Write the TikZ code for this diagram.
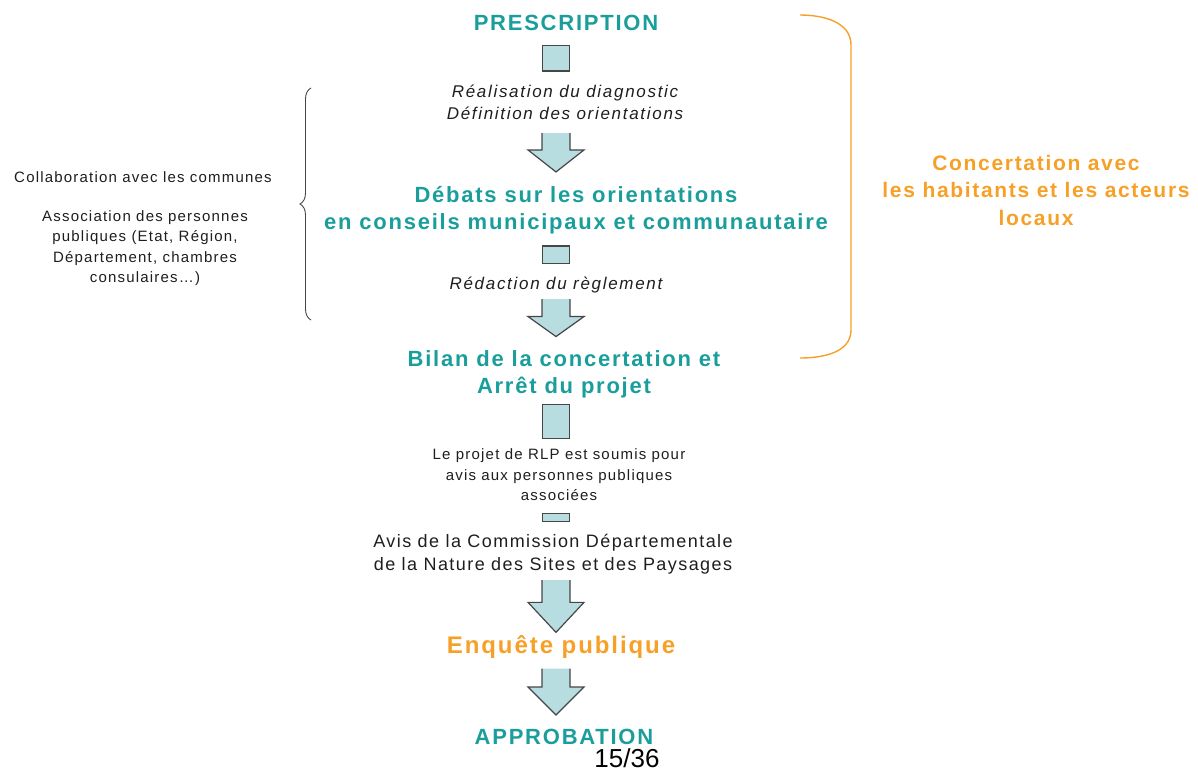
\documentclass[tikz,border=0pt]{standalone}
\usepackage{fontspec}
\setmainfont{Liberation Sans}
\newfontfamily\headfont[LetterSpace=8]{Liberation Sans}
\newfontfamily\bodyfont[LetterSpace=8]{Liberation Sans}
\newfontfamily\notefont[LetterSpace=10]{Liberation Sans}
\usetikzlibrary{calc,decorations.pathreplacing}

\definecolor{tealhead}{RGB}{26,158,156}
\definecolor{orangeco}{RGB}{247,160,40}
\definecolor{arrowfill}{RGB}{183,221,224}
\definecolor{arrowline}{RGB}{70,70,70}
\definecolor{textgray}{RGB}{30,30,30}

\tikzset{
  head/.style={inner sep=0, align=center, text=tealhead,
    font=\headfont\bfseries\fontsize{22}{27}\selectfont},
  note/.style={inner sep=0, align=center, text=textgray,
    font=\notefont\itshape\fontsize{17}{22}\selectfont},
  small/.style={inner sep=0, align=center, text=textgray,
    font=\bodyfont\fontsize{15}{20.5}\selectfont},
  conc/.style={inner sep=0, align=center, text=orangeco,
    font=\headfont\bfseries\fontsize{21}{27.5}\selectfont},
  stubbox/.style={fill=arrowfill, draw=arrowline, line width=1.2pt},
  blockarrow/.style={fill=arrowfill, draw=arrowline, line width=1.2pt, line join=miter},
}

% short block between two nodes: top node, bottom node, gap below top, gap above bottom
\newcommand{\stubrect}[4]{%
  \path[stubbox] ($(ax |- #1.south)+(-13.5,#3)$) rectangle ($(ax |- #2.north)+(13.5,-#4)$);}
% block arrow between two nodes: top node, bottom node, gaps, head length
\newcommand{\blockdown}[5]{%
  \path[blockarrow] let \p1=($(ax |- #1.south)+(0,#3)$), \p2=($(ax |- #2.north)+(0,-#4)$) in
    (\x1-14pt,\y1) -- (\x1-14pt,\y2+#5pt) -- (\x1-28pt,\y2+#5pt) -- (\x2,\y2)
    -- (\x1+28pt,\y2+#5pt) -- (\x1+14pt,\y2+#5pt) -- (\x1+14pt,\y1);}

\begin{document}
\begin{tikzpicture}[x=1pt,y=-1pt]
\useasboundingbox (0,0) rectangle (1198,773);
\coordinate (ax) at (556,0);

% main column
\node[head] (presc) at (566,22.5) {PRESCRIPTION};
\node[note] (real) at (565,102.5) {Réalisation du diagnostic\\Définition des orientations};
\node[head] (debats) at (576,210) {Débats sur les orientations\\en conseils municipaux et communautaire};
\node[note] (redac) at (556,285) {Rédaction du règlement};
\node[head] (bilan) at (564,374.5) {Bilan de la concertation et\\Arrêt du projet};
\node[small] (lerlp) at (559,475) {Le projet de RLP est soumis pour\\avis aux personnes publiques\\associées};
\node[small, font=\bodyfont\fontsize{18}{23}\selectfont] (avis) at (553,554)
  {Avis de la Commission Départementale\\de la Nature des Sites et des Paysages};
\node[head, text=orangeco, font=\headfont\bfseries\fontsize{24}{28}\selectfont] (enq) at (561,647) {Enquête publique};
\node[head] (appro) at (564,737) {APPROBATION};
\node[inner sep=0, font=\fontsize{26}{26}\selectfont, anchor=base] (page) at (627,767) {15/36};

\stubrect{presc}{real}{15}{14}
\blockdown{real}{debats}{13}{14}{22}
\stubrect{debats}{redac}{12}{13}
\blockdown{redac}{bilan}{6}{14}{20}
\stubrect{bilan}{lerlp}{6}{10}
\stubrect{lerlp}{avis}{12}{12}
\blockdown{avis}{enq}{6}{3}{30}
\blockdown{enq}{appro}{10}{14}{28}

% left side
\node[small] (collab) at (143,177) {Collaboration avec les communes};
\node[small] (assoc) at (145,248) {Association des personnes\\publiques (Etat, Région,\\Département, chambres\\consulaires…)};
\coordinate (lbtop) at (311,88);
\coordinate (lbbot) at (311,320);
\draw[arrowline, line width=0.9pt, decoration={brace, amplitude=11pt}, decorate] (lbbot) -- (lbtop);

% right side
\coordinate (rbtop) at (800,15);
\coordinate (rbbot) at (800,358);
\draw[orangeco, line width=1.4pt] (rbtop) to[out=0, in=90] (851,45) -- (851,330) to[out=-90, in=0] (rbbot);
\node[conc] (concert) at (1036,190) {Concertation avec\\les habitants et les acteurs\\locaux};
\end{tikzpicture}
\end{document}
